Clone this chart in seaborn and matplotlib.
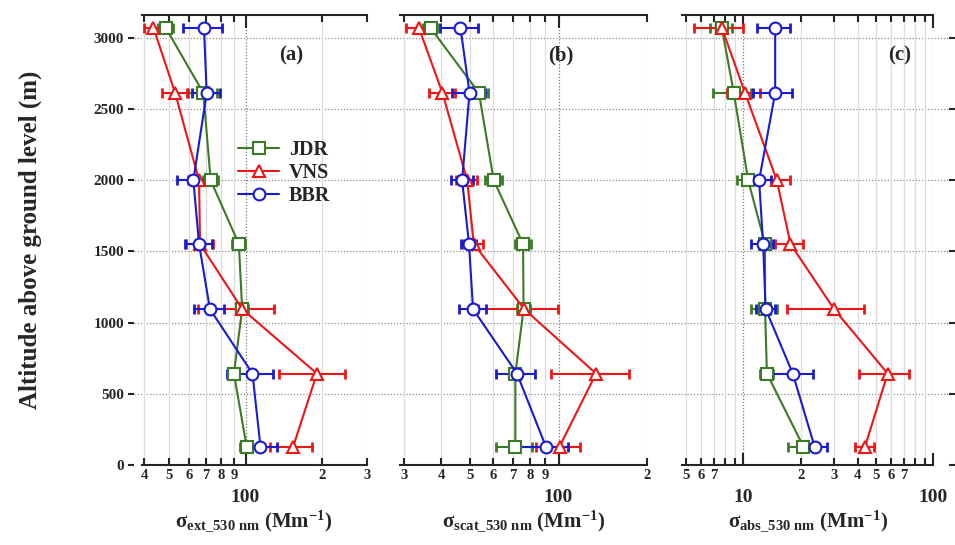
import numpy as np
import pandas as pd
import matplotlib
matplotlib.use("Agg")
import matplotlib.pyplot as plt
import matplotlib.ticker as mticker
import seaborn as sns

# altitudes (m) of the profile levels
altitude = [3070, 2613, 1999, 1552, 1095, 642, 129]

# (a) extinction, Mm-1
jdr_ext = [48.5, 68.2, 72.9, 94.1, 97.0, 90.0, 101.0]
jdr_ext_err = [3.3, 9.0, 5.0, 5.5, 5.0, 4.5, 5.5]
vns_ext = [43.4, 52.8, 65.6, 66.2, 97.0, 191.0, 154.0]
vns_ext_err = [3.7, 6.0, 6.5, 8.0, 32.0, 55.0, 29.0]
bbr_ext = [68.6, 70.3, 62.3, 65.6, 72.4, 106.5, 114.5]
bbr_ext_err = [12.0, 9.0, 8.7, 8.0, 9.7, 22.0, 18.0]

# (b) scattering, Mm-1
jdr_scat = [36.8, 53.7, 60.3, 75.8, 76.1, 71.4, 71.4]
jdr_scat_err = [2.0, 4.0, 4.0, 4.6, 4.0, 3.0, 10.0]
vns_scat = [33.6, 40.4, 49.0, 51.6, 76.5, 134.0, 100.8]
vns_scat_err = [3.3, 4.0, 4.0, 4.0, 23.0, 40.0, 17.0]
bbr_scat = [46.5, 49.9, 47.1, 49.7, 51.3, 72.3, 90.6]
bbr_scat_err = [6.8, 6.3, 4.0, 3.0, 5.5, 11.0, 17.0]

# (c) absorption, Mm-1
jdr_abs = [7.7, 8.9, 10.6, 13.0, 13.0, 13.3, 20.7]
jdr_abs_err = [1.0, 2.0, 1.4, 0.8, 2.0, 1.0, 3.5]
vns_abs = [7.7, 10.2, 15.0, 17.7, 30.0, 57.5, 43.7]
vns_abs_err = [2.2, 2.0, 2.7, 3.0, 13.0, 17.0, 5.0]
bbr_abs = [14.7, 14.7, 12.1, 12.7, 13.1, 18.2, 23.7]
bbr_abs_err = [2.9, 3.4, 1.8, 1.7, 1.5, 5.0, 4.0]

sites = ["JDR", "VNS", "BBR"]
colors = {"JDR": "#3b7a26", "VNS": "#f01414", "BBR": "#1a1ad0"}
markers = {"JDR": "s", "VNS": "^", "BBR": "o"}
msize = {"JDR": 8, "VNS": 9, "BBR": 8.5}

sns.set_style("white")
plt.rcParams["font.family"] = ["Liberation Serif", "DejaVu Serif"]
plt.rcParams["font.weight"] = "bold"
plt.rcParams["mathtext.fontset"] = "custom"
plt.rcParams["mathtext.rm"] = "Liberation Serif:bold"
plt.rcParams["mathtext.it"] = "Liberation Serif:bold:italic"
plt.rcParams["mathtext.bf"] = "Liberation Serif:bold"

W, H = 955, 545
fig = plt.figure(figsize=(W / 100, H / 100), dpi=100)

ylim = (0, 3160)
y_top, y_bot = 15, 465


def frac_rect(x0, x1):
    return [x0 / W, (H - y_bot) / H, (x1 - x0) / W, (y_bot - y_top) / H]


# background axes: y ticks on both sides and the horizontal dotted grid
bg = fig.add_axes(frac_rect(134, 949))
bg.set_ylim(ylim)
bg.set_xlim(0, 1)
bg.set_xticks([])
bg.set_yticks(np.arange(0, 3001, 500))
for s in bg.spines.values():
    s.set_visible(False)
bg.tick_params(axis="y", direction="out", length=4, width=1.5, left=True,
               right=True, labelsize=11, pad=3)
for lab in bg.get_yticklabels():
    lab.set_fontweight("bold")
for yv in np.arange(500, 3001, 500):
    bg.axhline(yv, color="#8c8c8c", lw=0.9, ls=(0, (1, 1.5)), zorder=0)
bg.set_ylabel("Altitude above ground level (m)", fontsize=18, fontweight="bold")
bg.yaxis.set_label_coords(-92 / 815, 0.5)
bg.set_facecolor("white")

panels = [
    dict(rect=(141.7, 366.7), xlim=(39, 300), major=[100], minor=[40, 50, 60, 70, 80, 90, 200, 300],
         lab_minor=[40, 50, 60, 70, 80, 90, 200, 300], tag="(a)", tagx=0.664, sub="ext",
         data={"JDR": (jdr_ext, jdr_ext_err), "VNS": (vns_ext, vns_ext_err), "BBR": (bbr_ext, bbr_ext_err)}),
    dict(rect=(400, 647.3), xlim=(29, 200), major=[100], minor=[30, 40, 50, 60, 70, 80, 90, 200],
         lab_minor=[30, 40, 50, 60, 70, 80, 90, 200], tag="(b)", tagx=0.651, sub="scat",
         data={"JDR": (jdr_scat, jdr_scat_err), "VNS": (vns_scat, vns_scat_err), "BBR": (bbr_scat, bbr_scat_err)}),
    dict(rect=(682, 933.3), xlim=(4.75, 100), major=[10, 100],
         minor=[5, 6, 7, 8, 9, 20, 30, 40, 50, 60, 70, 80, 90],
         lab_minor=[5, 6, 7, 20, 30, 40, 50, 60, 70], tag="(c)", tagx=0.867, sub="abs",
         data={"JDR": (jdr_abs, jdr_abs_err), "VNS": (vns_abs, vns_abs_err), "BBR": (bbr_abs, bbr_abs_err)}),
]


def minor_fmt(labeled):
    def f(v, pos):
        for l in labeled:
            if abs(v - l) < 1e-6 * l:
                return str(int(round(v / 10 ** np.floor(np.log10(v) + 1e-9))))
        return ""
    return mticker.FuncFormatter(f)


for i, p in enumerate(panels):
    ax = fig.add_axes(frac_rect(*p["rect"]))
    ax.set_facecolor("none")
    ax.set_xscale("log")
    ax.set_xlim(p["xlim"])
    ax.set_ylim(ylim)

    # vertical grid
    for v in p["minor"]:
        ax.axvline(v, color="#dcdcdc", lw=0.9, zorder=0)
    for v in p["major"]:
        ax.axvline(v, color="#7a7a7a", lw=0.9, ls=(0, (1, 1.5)), zorder=0)

    for site in sites:
        vals, err = p["data"][site]
        c = colors[site]
        ax.errorbar(vals, altitude, xerr=err, fmt="none", ecolor=c, elinewidth=1.5,
                    capsize=3.5, capthick=2, zorder=2)
        df = pd.DataFrame({"x": vals, "alt": altitude})
        sns.lineplot(data=df, x="x", y="alt", orient="y", sort=True, ax=ax, color=c,
                     lw=1.5, marker=markers[site], markersize=msize[site],
                     markerfacecolor="white", markeredgecolor=c, markeredgewidth=1.5,
                     label=site, zorder=3, legend=False)

    ax.xaxis.set_major_locator(mticker.FixedLocator(p["major"]))
    ax.xaxis.set_minor_locator(mticker.FixedLocator(p["minor"]))
    ax.xaxis.set_major_formatter(mticker.FuncFormatter(lambda v, pos: f"{int(v)}"))
    ax.xaxis.set_minor_formatter(minor_fmt(p["lab_minor"]))
    ax.tick_params(axis="x", which="both", direction="in", top=True, bottom=True, width=1.5)
    ax.tick_params(axis="x", which="major", length=9, labelsize=14, pad=17)
    ax.tick_params(axis="x", which="minor", length=5, labelsize=10.5, pad=3)
    for lab in ax.get_xticklabels(which="both"):
        lab.set_fontweight("bold")
    ax.set_yticks([])
    ax.set_ylabel("")
    ax.set_xlabel("σ$_{\\mathrm{" + p["sub"] + "\\_530\\ nm}}$ (Mm$^{\\mathrm{-1}}$)",
                  fontsize=15, fontweight="bold", va="center")
    ax.xaxis.set_label_coords(0.5, -0.125)
    ax.spines["left"].set_visible(False)
    ax.spines["right"].set_visible(False)
    ax.spines["top"].set_linewidth(1.5)
    ax.spines["bottom"].set_linewidth(1.5)
    ax.text(p["tagx"], 0.911, p["tag"], transform=ax.transAxes, ha="center", va="center",
            fontsize=15, fontweight="bold")

    if i == 0:
        ax.legend(loc="upper left", bbox_to_anchor=(0.43, 0.722), frameon=False,
                  prop={"size": 14.5, "weight": "bold"}, handlelength=2.0,
                  handletextpad=0.5, labelspacing=0.15, borderaxespad=0, borderpad=0)

fig.savefig("out.png", dpi=100, facecolor="white")
